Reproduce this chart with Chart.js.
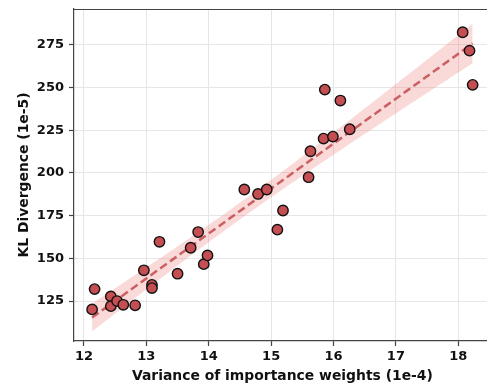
<!DOCTYPE html>
<html>
<head>
<meta charset="utf-8">
<script src="https://cdn.jsdelivr.net/npm/chart.js@4/dist/chart.umd.min.js"></script>
<style>
  html, body { margin: 0; padding: 0; background: #ffffff; }
  #wrap { width: 487px; height: 385px; position: relative; }
</style>
</head>
<body>
<div id="wrap"><canvas id="c" width="487" height="385"></canvas></div>
<script>
// Variance of importance weights (1e-4) for each run
const variance = [12.13, 12.17, 12.43, 12.43, 12.53, 12.63, 12.82, 12.96, 13.09, 13.09,
                  13.21, 13.50, 13.71, 13.83, 13.92, 13.98, 14.57, 14.79, 14.93, 15.10,
                  15.19, 15.60, 15.63, 15.84, 15.86, 15.99, 16.11, 16.26, 18.07, 18.18, 18.23];
// KL divergence (1e-5) for each run
const klDiv = [120.1, 132.0, 127.7, 122.0, 125.0, 122.8, 122.5, 143.0, 134.5, 132.6,
               159.7, 141.0, 156.2, 165.4, 146.6, 151.7, 190.3, 187.7, 190.3, 166.8,
               178.0, 197.5, 212.7, 220.1, 248.8, 221.3, 242.4, 225.6, 282.4, 271.6, 251.6];
const xTicks = [12, 13, 14, 15, 16, 17, 18];
const yTicks = [125, 150, 175, 200, 225, 250, 275];

const RED = '#c44e52';
const FONT = 'DejaVu Sans';

// Ordinary least squares fit with a 95% confidence band for the mean
const n = variance.length;
const xbar = variance.reduce((a, b) => a + b, 0) / n;
const ybar = klDiv.reduce((a, b) => a + b, 0) / n;
let sxx = 0, sxy = 0;
for (let i = 0; i < n; i++) {
  sxx += (variance[i] - xbar) ** 2;
  sxy += (variance[i] - xbar) * (klDiv[i] - ybar);
}
const slope = sxy / sxx;
const intercept = ybar - slope * xbar;
let sse = 0;
for (let i = 0; i < n; i++) sse += (klDiv[i] - (intercept + slope * variance[i])) ** 2;
const s = Math.sqrt(sse / (n - 2));
const tCrit = 2.045; // t(0.975, df = 29)

const xLo = Math.min(...variance), xHi = Math.max(...variance);
const fitLine = [], bandUpper = [], bandLower = [];
const steps = 60;
for (let k = 0; k <= steps; k++) {
  const x = xLo + (xHi - xLo) * k / steps;
  const yHat = intercept + slope * x;
  const half = tCrit * s * Math.sqrt(1 / n + (x - xbar) ** 2 / sxx);
  fitLine.push({ x, y: yHat });
  bandUpper.push({ x, y: yHat + half });
  bandLower.push({ x, y: yHat - half });
}

const points = variance.map((v, i) => ({ x: v, y: klDiv[i] }));

// Top frame line (left/bottom come from the scale borders)
const topSpine = {
  id: 'topSpine',
  afterDraw(chart) {
    const { ctx, chartArea } = chart;
    ctx.save();
    ctx.strokeStyle = '#444';
    ctx.lineWidth = 1.2;
    ctx.beginPath();
    ctx.moveTo(chartArea.left, chartArea.top + 0.5);
    ctx.lineTo(chartArea.right, chartArea.top + 0.5);
    ctx.stroke();
    ctx.restore();
  }
};

// Axis titles
const axisTitles = {
  id: 'axisTitles',
  afterDraw(chart) {
    const { ctx, chartArea } = chart;
    ctx.save();
    ctx.fillStyle = '#111';
    ctx.textAlign = 'center';
    ctx.textBaseline = 'alphabetic';
    ctx.font = `bold 13.9px "${FONT}"`;
    ctx.fillText('Variance of importance weights (1e-4)', 282.4, 379.5);
    ctx.translate(27.5, (chartArea.top + chartArea.bottom) / 2);
    ctx.rotate(-Math.PI / 2);
    ctx.fillText('KL Divergence (1e-5)', 0, 0);
    ctx.restore();
  }
};

new Chart(document.getElementById('c'), {
  type: 'scatter',
  data: {
    datasets: [
      {
        type: 'line', data: bandUpper, order: 3,
        borderWidth: 0, pointRadius: 0, fill: false, tension: 0
      },
      {
        type: 'line', data: bandLower, order: 3,
        borderWidth: 0, pointRadius: 0, tension: 0,
        fill: '-1', backgroundColor: 'rgba(240,128,128,0.3)'
      },
      {
        type: 'line', data: fitLine, order: 2,
        borderColor: 'rgba(196,78,82,0.88)', borderWidth: 2.5,
        borderDash: [8, 4], pointRadius: 0, fill: false, tension: 0
      },
      {
        data: points, order: 1,
        backgroundColor: RED, borderColor: '#111', borderWidth: 1.4,
        pointRadius: 5.2, pointHoverRadius: 5.2
      }
    ]
  },
  options: {
    responsive: false,
    animation: false,
    events: [],
    layout: { autoPadding: false, padding: { top: 9, right: 0, left: 0, bottom: 0 } },
    plugins: { legend: { display: false }, tooltip: { enabled: false } },
    scales: {
      x: {
        type: 'linear', min: 11.84, max: 18.46,
        afterBuildTicks: (sc) => { sc.ticks = xTicks.map(v => ({ value: v })); },
        afterFit: (sc) => { sc.height = 44; sc.paddingLeft = 0; sc.paddingRight = 0; },
        grid: { color: '#e6e6e6', lineWidth: 1, tickColor: '#444', tickLength: 5, tickWidth: 1.2 },
        border: { display: true, color: '#444', width: 1.2 },
        ticks: { font: { family: FONT, size: 13, weight: 'bold' }, color: '#111', padding: 3, maxRotation: 0 }
      },
      y: {
        type: 'linear', min: 101.6, max: 296,
        afterBuildTicks: (sc) => { sc.ticks = yTicks.map(v => ({ value: v })); },
        afterFit: (sc) => { sc.width = 74; sc.paddingTop = 0; sc.paddingBottom = 0; },
        grid: { color: '#e6e6e6', lineWidth: 1, tickColor: '#444', tickLength: 5, tickWidth: 1.2 },
        border: { display: true, color: '#444', width: 1.2 },
        ticks: { font: { family: FONT, size: 13, weight: 'bold' }, color: '#111', padding: 5 }
      }
    }
  },
  plugins: [topSpine, axisTitles]
});
</script>
</body>
</html>
